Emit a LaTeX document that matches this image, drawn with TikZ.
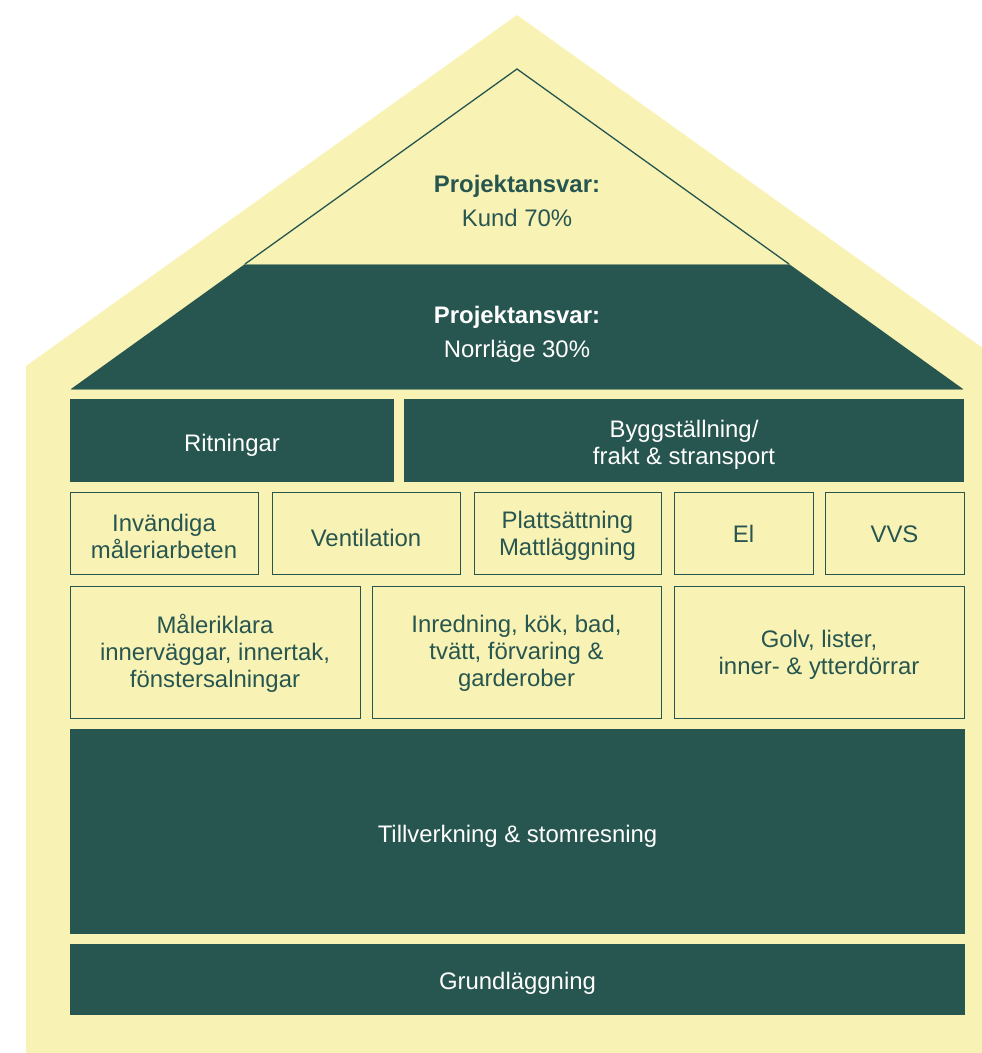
\documentclass[tikz,border=0pt]{standalone}
\usepackage{fontspec}
\setmainfont{Liberation Sans}
\usepackage{tikz}
\definecolor{hdark}{HTML}{27554F}
\definecolor{hlight}{HTML}{F8F3B5}

\begin{document}
\begin{tikzpicture}[x=1bp, y=-1bp,
    txt/.style={font=\fontsize{24}{27}\selectfont, align=center, inner sep=0pt},
    onlight/.style={txt, text=hdark},
    ondark/.style={txt, text=white},
    lightbox/.style={fill=hlight, draw=hdark, line width=0.9bp}]
  \useasboundingbox (0,0) rectangle (982,1053);
  \clip (0,0) rectangle (982,1053);

  % --- house outline ---
  \fill[hlight] (26,1060) -- (26,366) -- (517,15) -- (1008,366) -- (1008,1060) -- cycle;

  % --- roof: Norrläge part (dark) and Kund part (light) ---
  \fill[hdark] (71,389) -- (245,264) -- (789,264) -- (963,389) -- cycle;
  \draw[hdark!55!hlight, line width=1.5bp] (245,264.5) -- (789,264.5);
  \draw[hdark!55!hlight, line width=1.2bp] (71,389.5) -- (963,389.5);
  \draw[hdark, line width=1.3bp] (245,264) -- (517,69) -- (789,264);
  \node[onlight] (kund) at (517,201) {\textbf{Projektansvar:}\\[7bp] Kund 70\%};
  \node[ondark] (norr) at (517,334) {\textbf{Projektansvar:}\\[7bp] Norrläge 30\%};

  % --- row 1 ---
  \fill[hdark] (70,399) rectangle (394,482);
  \node[ondark] (ritn) at (232,445.5) {Ritningar};
  \fill[hdark] (404,399) rectangle (964,482);
  \node[ondark] (bygg) at (684,445) {Byggställning/\\frakt \& stransport};

  % --- row 2 ---
  \filldraw[lightbox] (70,492) rectangle (258,574);
  \node[onlight] (malinv) at (164,536) {Invändiga\\måleriarbeten};
  \filldraw[lightbox] (272,492) rectangle (460,574);
  \node[onlight] (vent) at (366,538) {Ventilation};
  \filldraw[lightbox] (474,492) rectangle (661,574);
  \node[onlight] (platt) at (567.5,536) {Plattsättning\\Mattläggning};
  \filldraw[lightbox] (674,492) rectangle (813,574);
  \node[onlight] (el) at (743.5,534) {El};
  \filldraw[lightbox] (825,492) rectangle (964,574);
  \node[onlight] (vvs) at (894.5,534) {VVS};

  % --- row 3 ---
  \filldraw[lightbox] (70,586) rectangle (360,718);
  \node[onlight] (malkl) at (215,653) {Måleriklara\\innerväggar, innertak,\\fönstersalningar};
  \filldraw[lightbox] (372,586) rectangle (661,718);
  \node[onlight] (inred) at (516.5,653) {Inredning, kök, bad,\\tvätt, förvaring \&\\garderober};
  \filldraw[lightbox] (674,586) rectangle (964,718);
  \node[onlight] (golv) at (819,655) {Golv, lister,\\inner- \& ytterdörrar};

  % --- stomme and grund ---
  \fill[hdark] (70,729) rectangle (965,934);
  \node[ondark] (tillv) at (517.5,836.5) {Tillverkning \& stomresning};
  \fill[hdark] (70,944) rectangle (965,1015);
  \node[ondark] (grund) at (517.5,983.5) {Grundläggning};

\end{tikzpicture}
\end{document}
